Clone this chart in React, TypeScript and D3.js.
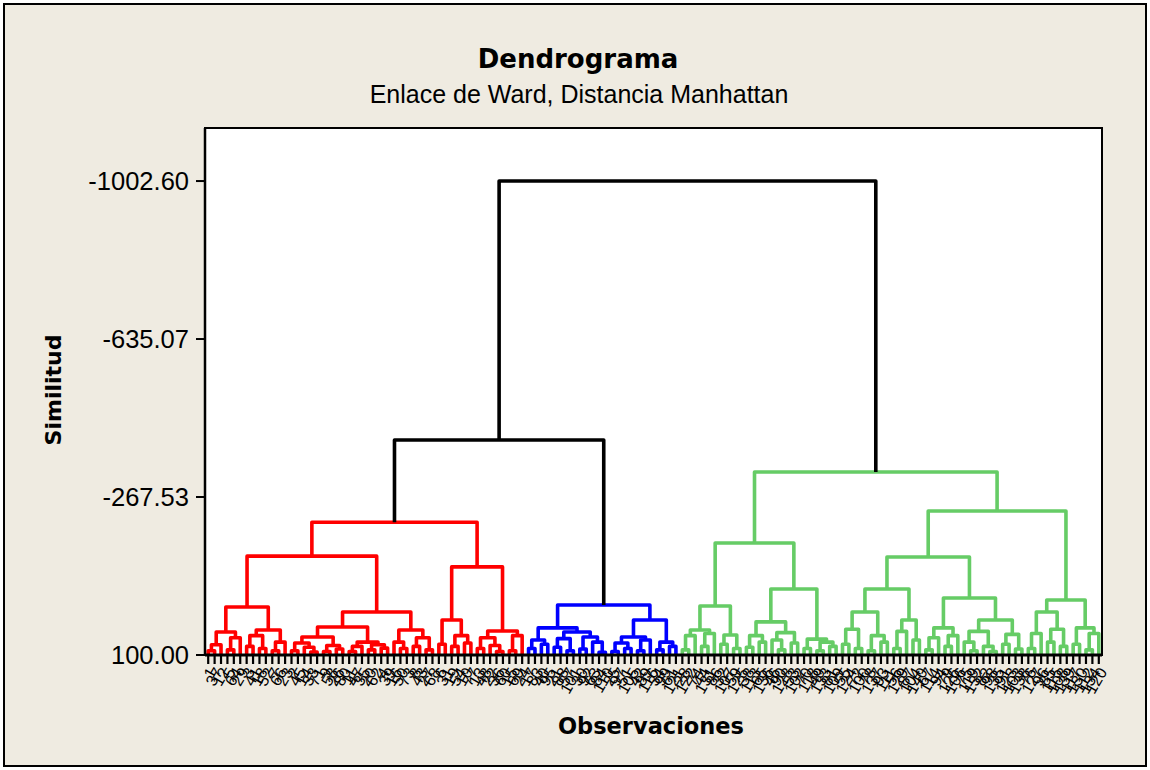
import * as d3 from "d3";

type Tree = number | [number, Tree, Tree];

// similarity axis
const yTicks = [-1002.6, -635.07, -267.53, 100.0];
const yMin = 100;
const yMax = -1126;

// cluster trees: [similarity, left, right], leaves are observation numbers
const redCluster: Tree = [-209,
  [-130,
    [-11.6,
      [46.5, [76, [90, 1, 37], 12], [60, [88, 5, 64], 29]],
      [42, [55, [80, 3, 41], [85, 18, 52]], [70, [90, 7, 66], 23]]],
    [0,
      [35,
        [58, [72, [90, 2, 45], [82, 14, [93, 33, 71]]], [78, [92, 9, 58], [86, 26, 80]]],
        [70, [80, [92, 11, 47], 35], [76, [88, 20, 62], [84, 4, 39]]]],
      [42, [70, 16, [85, 50, 73]], [60, [80, 8, 43], [88, 27, 68]]]]],
  [-105,
    [18.6, [75, 6, 31], [55, [80, 19, 54], [72, 10, 77]]],
    [44, [60, [85, 13, 48], [78, 22, [92, 36, 60]]], [55, [90, 15, 69], 24]]]];

const blueCluster: Tree = [-16.3,
  [37,
    [65, [85, 17, 83], [75, 40, 95]],
    [46.5, [62, [82, 21, 88], [90, 57, 101]], [58, [86, 30, 92], [70, 63, [94, 84, 110]]]]],
  [18.6,
    [58, [72, [92, 25, 97], [85, 51, 105]], [65, [90, 42, 89], 116]],
    [70, [88, 34, 99], [80, 61, 121]]]];

const greenCluster: Tree = [-325.7,
  [-160.5,
    [-14,
      [42, [55, [88, 28, 122], 74], [50, [80, 44, 131], 86]],
      [53.5, [75, 32, 107], [85, 59, 125]]],
    [-53.5,
      [23, [55, [82, 38, 113], [70, 65, 136]], [48, [65, 46, [88, 90, 128]], [72, 53, 102]]],
      [63, [85, 70, 118], [70, [90, 49, 133], [80, 81, 109]]]]],
  [-235,
    [-128,
      [-53.5,
        [0, [40, [75, 55, 124], [85, 72, 100]], [55, [90, 78, 137], [70, 93, 111]]],
        [18.6, [45, [85, 56, 129], 87], [65, 104, 140]]],
      [-32.6,
        [37, [60, [88, 67, 114], 94], [55, [80, 79, 126], 106]],
        [18.6, [45, [70, 75, [90, 119, 132]], [80, 82, [92, 98, 135]]], [52, [75, 91, 123], [86, 103, 138]]]]],
    [-28,
      [0, [50, [85, 76, 127], 96], [40, [70, 85, 115], [80, 108, 139]]],
      [37, [75, 117, 130], [50, [88, 112, 134], 120]]]]];

const redBlueSimilarity = -400;
const rootSimilarity = -1002.6;

const W = 1150;
const H = 770;
const plot = { left: 205, top: 128, right: 1102, bottom: 655 };
const RED = "#ff0000";
const BLUE = "#0000ff";
const GREEN = "#66cc66";
const BG = "#efebe1";
const regular = "'Liberation Sans', Arial, sans-serif";
const bold = "'DejaVu Sans', Verdana, sans-serif";

function leaves(t: Tree, out: number[] = []): number[] {
  if (typeof t === "number") out.push(t);
  else {
    leaves(t[1], out);
    leaves(t[2], out);
  }
  return out;
}

const leafOrder = [...leaves(redCluster), ...leaves(blueCluster), ...leaves(greenCluster)];

const x = d3
  .scalePoint<string>()
  .domain(leafOrder.map(String))
  .range([plot.left, plot.right])
  .padding(0.5);

const y = d3.scaleLinear().domain([yMin, yMax]).range([plot.bottom, plot.top]);

type Seg = { d: string; color: string };
type Pos = { x: number; h: number };

function link(l: Pos, r: Pos, h: number, color: string, out: Seg[]): Pos {
  const path = d3.path();
  path.moveTo(l.x, y(l.h));
  path.lineTo(l.x, y(h));
  path.lineTo(r.x, y(h));
  path.lineTo(r.x, y(r.h));
  out.push({ d: path.toString(), color });
  return { x: (l.x + r.x) / 2, h };
}

function build(t: Tree, color: string, out: Seg[]): Pos {
  if (typeof t === "number") return { x: x(String(t)) ?? 0, h: yMin };
  const l = build(t[1], color, out);
  const r = build(t[2], color, out);
  return link(l, r, t[0], color, out);
}

const segs: Seg[] = [];
const red = build(redCluster, RED, segs);
const blue = build(blueCluster, BLUE, segs);
const green = build(greenCluster, GREEN, segs);
const rb = link(red, blue, redBlueSimilarity, "#000", segs);
link(rb, green, rootSimilarity, "#000", segs);

export default function App() {
  return (
    <svg
      width={W}
      height={H}
      style={{ position: "fixed", left: 0, top: 0, display: "block" }}
    >
      <rect x={4} y={4} width={W - 8} height={H - 8} fill={BG} stroke="#000" strokeWidth={2} />
      <text x={578} y={68} textAnchor="middle" fontFamily={bold} fontWeight="bold" fontSize={26}>
        Dendrograma
      </text>
      <text x={579} y={103} textAnchor="middle" fontFamily={regular} fontSize={25}>
        Enlace de Ward, Distancia Manhattan
      </text>
      <rect
        x={plot.left}
        y={plot.top}
        width={plot.right - plot.left}
        height={plot.bottom - plot.top}
        fill="#fff"
        stroke="#000"
        strokeWidth={2}
      />
      {segs.map((s, i) => (
        <path key={i} d={s.d} fill="none" stroke={s.color} strokeWidth={3.6} strokeLinejoin="round" />
      ))}
      {/* y axis */}
      <line x1={plot.left} x2={plot.left} y1={plot.top} y2={plot.bottom} stroke="#000" strokeWidth={2.5} />
      {yTicks.map((t) => (
        <g key={t} transform={`translate(${plot.left},${y(t)})`}>
          <line x1={-9} x2={0} stroke="#000" strokeWidth={2} />
          <text x={-16} dy="0.35em" textAnchor="end" fontFamily={regular} fontSize={25.5}>
            {t.toFixed(2)}
          </text>
        </g>
      ))}
      {/* x axis */}
      <line x1={plot.left} x2={plot.right} y1={plot.bottom} y2={plot.bottom} stroke="#000" strokeWidth={3} />
      {leafOrder.map((id) => {
        const lx = x(String(id)) ?? 0;
        return (
          <g key={id} transform={`translate(${lx},${plot.bottom})`}>
            <line y1={0} y2={9} stroke="#000" strokeWidth={2.2} />
            <text
              transform="translate(4,14) rotate(-60)"
              textAnchor="end"
              dy="0.35em"
              fontFamily={regular}
              fontSize={16}
            >
              {id}
            </text>
          </g>
        );
      })}
      <text
        transform={`translate(61,390) rotate(-90)`}
        textAnchor="middle"
        fontFamily={bold}
        fontWeight="bold"
        fontSize={22}
      >
        Similitud
      </text>
      <text x={651} y={734} textAnchor="middle" fontFamily={bold} fontWeight="bold" fontSize={22.5}>
        Observaciones
      </text>
    </svg>
  );
}
